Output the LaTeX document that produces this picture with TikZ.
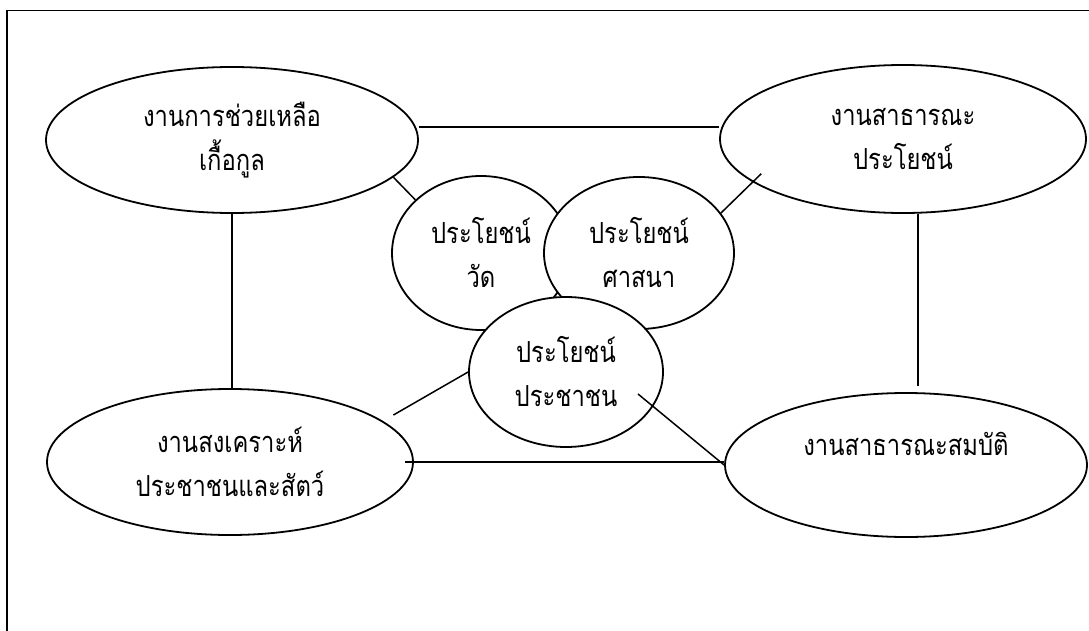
\documentclass[tikz,border=0pt]{standalone}
\usepackage{fontspec}
\newfontfamily\thaifont[Script=Thai,FakeStretch=0.82]{Loma}
\usetikzlibrary{shapes.geometric}

\begin{document}
\begin{tikzpicture}[x=1pt,y=-1pt,
  every node/.style={font=\thaifont\fontsize{29}{44}\selectfont},
  bubble/.style={ellipse,draw,fill=white,line width=1.8pt,inner sep=0pt,align=center},
  link/.style={line width=1.5pt}]
\useasboundingbox (0,0) rectangle (1089,631);
% page frame, only top and left edges show
\draw[line width=1.6pt] (7,631) -- (7,10.5) -- (1089,10.5);

% outer fields
\node[bubble,minimum width=372pt,minimum height=146pt] (help) at (232,140) {งานการช่วยเหลือ\\เกื้อกูล};
\node[bubble,minimum width=366pt,minimum height=148pt] (public) at (903,139) {งานสาธารณะ\\ประโยชน์};
\node[bubble,minimum width=366pt,minimum height=146pt] (welfare) at (230,462) {งานสงเคราะห์\\ประชาชนและสัตว์};
\node[bubble,minimum width=362pt,minimum height=144pt,text height=25pt,text depth=45pt] (property) at (906,465) {งานสาธารณะสมบัติ};

% three benefits in the middle
\node[bubble,minimum width=178pt,minimum height=154pt] (temple) at (481,253) {ประโยชน์\\วัด};
\node[bubble,minimum width=190pt,minimum height=152pt] (religion) at (639,253) {ประโยชน์\\ศาสนา};
\node[bubble,minimum width=194pt,minimum height=150pt] (people) at (566,372) {ประโยชน์\\ประชาชน};

\coordinate (pubfoot) at ([xshift=15pt]public.south);

\draw[link] ([yshift=13pt]help.east) -- ([yshift=13pt]help.east -| public.west);
\draw[link] (help.south) -- (help.south |- welfare.north);
\draw[link,shorten >=6pt] (pubfoot) -- (pubfoot |- property.north);
\draw[link,shorten <=-9pt] (welfare.east) -- (welfare.east -| property.west);
\draw[link] (help.-13) -- (temple.141);
\draw[link,shorten <=-12pt] (public.196) -- (religion.26);
\draw[link,shorten >=12pt] (people.west) -- (welfare.15);
\draw[link] (property.west) -- ([shift={(72pt,-22pt)}]people.center);
\end{tikzpicture}
\end{document}
